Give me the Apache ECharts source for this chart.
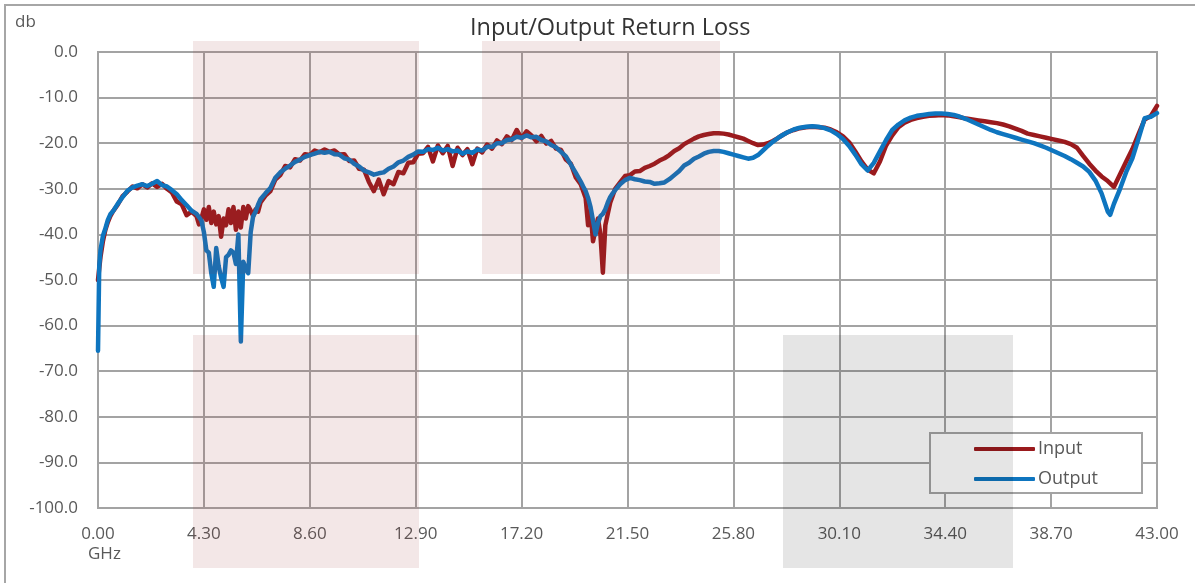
<!DOCTYPE html>
<html>
<head>
<meta charset="utf-8">
<title>Input/Output Return Loss</title>
<script src="https://cdn.jsdelivr.net/npm/echarts/dist/echarts.min.js"></script>
<style>
  html, body { margin: 0; padding: 0; background: #fff; }
  #chart { width: 1195px; height: 583px; }
</style>
</head>
<body>
<div id="chart"></div>
<script>
// sweep frequency, GHz
const freqGHz = [
  0, 0.05, 0.1, 0.2, 0.3, 0.4, 0.5, 0.6, 0.8,
  1.0, 1.2, 1.4, 1.6, 1.8, 2.0, 2.2, 2.4, 2.6, 2.8, 3.0, 3.2, 3.4, 3.6, 3.8,
  4.0, 4.1, 4.2, 4.3, 4.4, 4.5, 4.6, 4.7, 4.8, 4.9,
  5.0, 5.1, 5.2, 5.3, 5.4, 5.5, 5.6, 5.7, 5.8, 5.9,
  6.0, 6.1, 6.2, 6.3, 6.4, 6.5, 6.6,
  6.8, 7.0, 7.2, 7.4, 7.6, 7.8, 8.0, 8.2, 8.4, 8.6,
  8.8, 9.0, 9.2, 9.4, 9.6, 9.8, 10.0, 10.2, 10.4, 10.6,
  10.8, 11.0, 11.2, 11.4, 11.6, 11.8, 12.0, 12.2, 12.4, 12.6,
  12.8, 13.0, 13.2, 13.4, 13.6, 13.8, 14.0, 14.2, 14.4, 14.6,
  14.8, 15.0, 15.2, 15.4, 15.6, 15.8, 16.0, 16.2, 16.4, 16.6,
  16.8, 17.0, 17.2, 17.4, 17.6, 17.8, 18.0, 18.2, 18.4, 18.6,
  18.8, 19.0, 19.2, 19.4,
  19.6, 19.7, 19.8, 19.9, 20.0, 20.1, 20.2, 20.3, 20.4, 20.5, 20.6, 20.7, 20.8, 20.9, 21.0,
  21.2, 21.4, 21.6, 21.8, 22.0, 22.2, 22.4, 22.6, 22.8, 23.0,
  23.2, 23.4, 23.6, 23.8, 24.0, 24.2, 24.4, 24.6, 24.8, 25.0,
  25.2, 25.4, 25.6, 25.8, 26.0, 26.2, 26.4, 26.6, 26.8, 27.0,
  27.2, 27.4, 27.6, 27.8,
  28.0, 28.25, 28.5, 28.75, 29.0, 29.25, 29.5, 29.75, 30.0, 30.25,
  30.5, 30.75, 31.0, 31.25, 31.5, 31.75, 32.0, 32.25, 32.5, 32.75,
  33.0, 33.25, 33.5, 33.75, 34.0, 34.25, 34.5, 34.75, 35.0, 35.25,
  35.5, 35.75, 36.0, 36.25, 36.5, 36.75, 37.0, 37.25, 37.5, 37.75,
  38.0, 38.25, 38.5, 38.75, 39.0, 39.25, 39.5, 39.75, 40.0, 40.25,
  40.5, 40.75, 41.0, 41.1, 41.25, 41.5, 41.75, 42.0, 42.25, 42.5,
  42.75, 43.0
];

// input return loss, dB
const inputDb = [
  -50.0, -47.5, -45.0, -41.5, -39.0, -37.3, -36.0, -35.0, -33.5,
  -31.6, -30.6, -29.5, -29.9, -29.0, -29.7, -28.8, -29.6, -28.9, -30.0, -30.8, -32.8, -33.4, -35.8, -35.0,
  -36.0, -37.8, -36.5, -34.5, -36.8, -34.0, -37.5, -35.0, -37.8, -36.0,
  -40.5, -36.5, -38.0, -34.5, -37.5, -34.0, -39.0, -35.0, -38.5, -34.0,
  -36.5, -33.8, -34.8, -36.0, -34.5, -35.0, -33.0,
  -31.5, -30.5, -28.0, -27.0, -25.0, -25.3, -23.5, -23.8, -22.4, -22.6,
  -21.6, -22.0, -21.4, -21.9, -21.6, -22.5, -22.4, -23.9, -23.8, -25.6,
  -25.8, -28.5, -30.5, -28.0, -31.2, -28.3, -29.0, -26.3, -26.6, -24.3,
  -24.2, -22.3, -22.2, -20.8, -24.0, -20.5, -22.2, -20.6, -25.0, -21.0,
  -22.6, -21.3, -24.6, -21.2, -22.0, -20.3, -21.2, -19.4, -20.2, -18.5,
  -19.3, -17.1, -18.9, -17.4, -18.3, -19.6, -18.4, -20.1, -19.5, -21.2,
  -21.5, -23.6, -24.5, -27.5,
  -29.0, -30.5, -32.0, -38.0, -35.0, -41.5, -39.0, -36.5, -40.0, -48.4, -38.0, -35.5, -33.0, -31.5, -30.0,
  -28.6, -27.2, -27.0, -26.2, -26.1, -25.4, -25.0, -24.5, -23.8, -23.3,
  -22.6, -21.7, -21.1, -20.2, -19.6, -19.0, -18.5, -18.2, -18.0, -17.8,
  -17.8, -17.9, -18.1, -18.4, -18.7, -19.0, -19.5, -20.0, -20.4, -20.3,
  -20.0, -19.5, -18.9, -18.2,
  -17.6, -17.1, -16.7, -16.5, -16.4, -16.5, -16.6, -17.0, -17.6, -18.5,
  -19.8, -21.8, -24.0, -25.8, -26.6, -24.0, -20.5, -18.3, -16.5, -15.5,
  -14.9, -14.5, -14.2, -14.0, -13.9, -13.8, -13.9, -14.1, -14.3, -14.6,
  -14.8, -15.0, -15.2, -15.4, -15.6, -15.9, -16.3, -16.8, -17.3, -17.9,
  -18.2, -18.5, -18.8, -19.1, -19.4, -19.7, -20.2, -21.0, -22.8, -24.5,
  -26.0, -27.3, -28.3, -28.8, -29.6, -26.8, -24.0, -21.3, -18.0, -14.8,
  -14.0, -11.8
];

// output return loss, dB
const outputDb = [
  -65.5, -47.0, -43.5, -40.3, -38.7, -36.8, -35.6, -35.0, -33.3,
  -31.8, -30.4, -29.7, -29.3, -29.0, -29.4, -28.9, -28.3, -29.2, -29.5, -30.3, -31.2, -32.5, -33.6, -34.8,
  -35.5, -36.2, -37.0, -39.5, -43.5, -44.0, -48.5, -51.5, -43.0, -47.0,
  -49.5, -51.5, -45.0, -44.5, -43.5, -44.0, -46.5, -40.0, -63.5, -46.0,
  -47.5, -48.5, -39.5, -36.0, -35.0, -33.5, -32.3,
  -31.0, -29.8, -27.6, -26.4, -25.6, -24.9, -24.1, -23.6, -23.0, -22.6,
  -22.3, -21.9, -22.1, -21.9, -22.4, -22.5, -23.3, -23.6, -24.5, -25.1,
  -26.0, -26.4, -26.9, -26.6, -26.4, -25.6, -25.1, -24.2, -23.8, -23.0,
  -22.5, -21.8, -21.9, -21.3, -21.5, -21.0, -21.6, -21.3, -21.8, -21.6,
  -22.3, -21.8, -22.1, -21.4, -21.6, -20.8, -20.8, -20.0, -20.0, -19.3,
  -19.2, -18.6, -18.8, -18.3, -18.7, -18.6, -19.3, -19.6, -20.4, -20.9,
  -21.9, -22.9, -24.7, -26.5,
  -28.4, -29.5, -30.5, -32.0, -34.0, -37.0, -40.0, -37.5, -36.0, -35.5, -34.5, -33.0, -31.8, -31.0, -30.3,
  -29.0, -28.1, -27.6, -27.9, -28.1, -28.4, -28.5, -28.9, -28.8, -28.6,
  -27.9, -27.0, -26.1, -24.9, -24.3, -23.4, -22.9, -22.3, -21.9, -21.7,
  -21.7, -21.9, -22.2, -22.5, -22.8, -23.1, -23.4, -23.2, -22.6, -21.6,
  -20.6, -19.7, -18.9, -18.2,
  -17.6, -17.0, -16.6, -16.4, -16.3, -16.4, -16.7, -17.2, -18.0, -19.1,
  -20.6, -22.5, -24.6, -26.0, -24.3, -21.8, -19.3, -17.1, -15.9, -15.0,
  -14.4, -14.0, -13.8, -13.6, -13.5, -13.5, -13.6, -13.8, -14.2, -14.7,
  -15.3, -15.9, -16.5, -17.1, -17.6, -18.0, -18.4, -18.8, -19.2, -19.6,
  -20.0, -20.5, -21.0, -21.6, -22.2, -22.8, -23.5, -24.3, -25.1, -26.3,
  -28.2, -31.0, -35.0, -35.7, -33.3, -30.0, -26.3, -23.3, -19.0, -14.5,
  -14.2, -13.4
];

const seriesNames = ['Input', 'Output'];
const seriesColors = ['#9a1a1d', '#0e75bf'];

const labelColor = '#595959';
const gridColor = '#a3a3a3';
const font = '"Open Sans", "Noto Sans", sans-serif';

const chart = echarts.init(document.getElementById('chart'));

const option = {
  backgroundColor: '#ffffff',
  animation: false,
  title: {
    text: 'Input/Output Return Loss',
    left: 470,
    top: 11,
    padding: [5, 0, 5, 0],
    textStyle: { color: '#333333', fontSize: 23.5, fontWeight: 'normal', fontFamily: font }
  },
  grid: {
    left: 98, right: 38, top: 52, bottom: 75,
    show: true, borderColor: gridColor, borderWidth: 2, backgroundColor: 'transparent'
  },
  xAxis: {
    type: 'value',
    min: 0, max: 43, interval: 4.3,
    axisLine: { show: true, lineStyle: { color: gridColor, width: 2 } },
    axisTick: { show: false },
    splitLine: { show: true, lineStyle: { color: gridColor, width: 2 } },
    axisLabel: {
      color: labelColor, fontSize: 17, fontFamily: font, margin: 18,
      formatter: v => v.toFixed(2)
    }
  },
  yAxis: {
    type: 'value',
    min: -100, max: 0, interval: 10,
    axisLine: { show: true, lineStyle: { color: gridColor, width: 2 } },
    axisTick: { show: false },
    splitLine: { show: true, lineStyle: { color: gridColor, width: 2 } },
    axisLabel: {
      color: labelColor, fontSize: 17, fontFamily: font, margin: 20,
      formatter: v => v.toFixed(1)
    }
  },
  legend: {
    orient: 'vertical',
    left: 930, top: 433,
    padding: [6, 42, 4, 44],
    itemGap: 10,
    itemWidth: 61, itemHeight: 4,
    icon: 'roundRect',
    backgroundColor: '#ffffff',
    borderColor: gridColor, borderWidth: 2, borderRadius: 0,
    textStyle: { color: labelColor, fontSize: 18, fontFamily: font, lineHeight: 20, width: 62, padding: [0, 0, 0, -2] },
    data: seriesNames
  },
  graphic: [
    { type: 'rect', silent: true, z: 0, shape: { x: 5, y: 5, width: 1200, height: 600 },
      style: { fill: 'none', stroke: '#a6a6a6', lineWidth: 2 } },
    { type: 'text', silent: true, left: 15, top: 14,
      style: { text: 'db', fill: labelColor, font: '17px ' + font } },
    { type: 'text', silent: true, left: 88, top: 546,
      style: { text: 'GHz', fill: labelColor, font: '17px ' + font } },
    // highlight bands over the plot
    { type: 'rect', silent: true, z: 100, shape: { x: 193, y: 41, width: 226, height: 233 },
      style: { fill: 'rgba(160,60,60,0.12)' } },
    { type: 'rect', silent: true, z: 100, shape: { x: 193, y: 335, width: 226, height: 233 },
      style: { fill: 'rgba(160,60,60,0.12)' } },
    { type: 'rect', silent: true, z: 100, shape: { x: 482, y: 41, width: 238, height: 233 },
      style: { fill: 'rgba(160,60,60,0.12)' } },
    { type: 'rect', silent: true, z: 100, shape: { x: 783, y: 335, width: 230, height: 233 },
      style: { fill: 'rgba(0,0,0,0.10)' } }
  ],
  series: seriesNames.map((name, k) => ({
    name: name,
    type: 'line',
    symbol: 'none',
    showSymbol: false,
    color: seriesColors[k],
    lineStyle: { color: seriesColors[k], width: 4.5, join: 'round', cap: 'round' },
    data: freqGHz.map((f, i) => [f, (k === 0 ? inputDb : outputDb)[i]])
  }))
};

chart.setOption(option);
</script>
</body>
</html>
